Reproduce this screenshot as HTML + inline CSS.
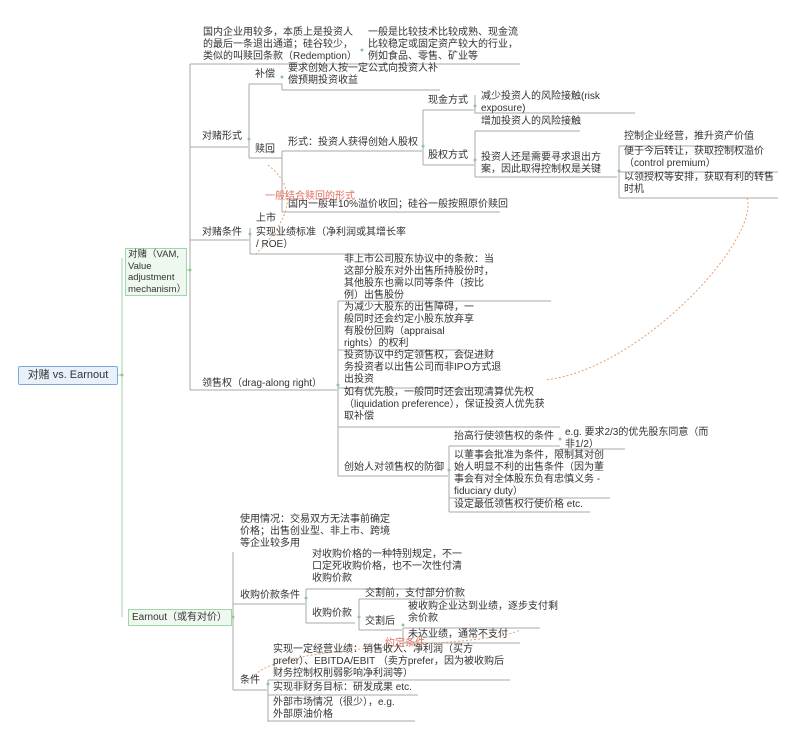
<!DOCTYPE html>
<html><head><meta charset="utf-8"><style>
body{margin:0;width:800px;height:745px;background:#fff;position:relative;overflow:hidden;font-family:"Liberation Sans","Noto Sans CJK SC",sans-serif;font-size:10px;color:#333;}
.t{position:absolute;line-height:12px;white-space:nowrap;margin-top:-2px;}
svg{position:absolute;left:0;top:0;}
.box{position:absolute;line-height:12.5px;}
</style></head><body>
<svg width="800" height="745">
<g stroke="#aaa" stroke-width="1" fill="none">
<path d="M190,64 V390"/>
<path d="M190,64 H520"/>
<path d="M190,147 H248"/>
<path d="M249,84 V158"/>
<path d="M249,84 H282 V90 H440"/>
<path d="M249,158 H282"/>
<path d="M282,151 V212"/>
<path d="M282,151 H422"/>
<path d="M423,110 V165"/>
<path d="M423,110 H474"/>
<path d="M475,95 V113 H635"/>
<path d="M423,165 H474"/>
<path d="M475,131 V177"/>
<path d="M475,131 H580"/>
<path d="M475,177 H617"/>
<path d="M619,146 V198"/>
<path d="M619,146 H752"/>
<path d="M619,172 H778"/>
<path d="M619,198 H778"/>
<path d="M282,212 H500"/>
<path d="M190,240 H249"/>
<path d="M250,228 V254 H405"/>
<path d="M190,390 H337"/>
<path d="M338,301 V476"/>
<path d="M338,301 H551"/>
<path d="M338,350 H467"/>
<path d="M338,388 H485"/>
<path d="M338,427 H560"/>
<path d="M338,476 H448"/>
<path d="M449,446 V512"/>
<path d="M449,446 H560"/>
<path d="M560,449 H625"/>
<path d="M449,498 H610"/>
<path d="M449,512 H590"/>
<path d="M233,552 V690"/>
<path d="M233,604 H305"/>
<path d="M306,589 V623"/>
<path d="M306,589 H460"/>
<path d="M306,623 H355"/>
<path d="M359,599 V630"/>
<path d="M359,599 H465"/>
<path d="M359,630 H402"/>
<path d="M403,628 V645"/>
<path d="M403,628 H540"/>
<path d="M403,643 H520"/>
<path d="M233,690 H267"/>
<path d="M268,680 V722"/>
<path d="M268,680 H510"/>
<path d="M268,695 H418"/>
<path d="M268,721 H415"/>
</g>
<g stroke="#9fd6a8" stroke-width="1" fill="none">
<path d="M122,258 V617"/>
<path d="M118,375 H122"/>
<path d="M185,270 H190"/>
<path d="M229,617 H233"/>
</g>
<g stroke="#e8a070" stroke-width="1" fill="none" stroke-dasharray="2,2">
<path d="M268,165 C300,190 290,220 255,255"/>
<path d="M747,198 C760,240 640,370 545,380"/>
<path d="M252,678 C280,640 480,650 520,630"/>
</g>
<g fill="#8cc890">
<circle cx="190" cy="270" r="1.5"/><circle cx="122" cy="375" r="1.5"/><circle cx="233" cy="617" r="1.5"/>
<circle cx="249" cy="139" r="1.5"/><circle cx="282" cy="77" r="1.5"/><circle cx="272" cy="152" r="1.5"/>
<circle cx="423" cy="146" r="1.5"/><circle cx="475" cy="106" r="1.5"/><circle cx="475" cy="160" r="1.5"/>
<circle cx="619" cy="171" r="1.5"/><circle cx="250" cy="234" r="1.5"/><circle cx="338" cy="385" r="1.5"/>
<circle cx="449" cy="470" r="1.5"/><circle cx="560" cy="439" r="1.5"/><circle cx="362" cy="50" r="1.5"/>
<circle cx="306" cy="598" r="1.5"/><circle cx="359" cy="617" r="1.5"/><circle cx="403" cy="625" r="1.5"/><circle cx="268" cy="684" r="1.5"/>
</g>
</svg>

<div class="box" style="left:18px;top:366px;width:98px;height:17px;border:1px solid #7fa8d8;background:#e8f0fa;border-radius:2px;font-size:11px;line-height:17px;text-align:center;">对赌 vs. Earnout</div>
<div class="box" style="left:125px;top:248px;width:58px;height:46px;border:1px solid #9fd6a8;background:#eef8ef;padding-left:2px;font-size:9.5px;line-height:11.5px;">对赌（VAM,<br>Value<br>adjustment<br>mechanism）</div>
<div class="box" style="left:128px;top:609px;width:99px;height:15px;border:1px solid #9fd6a8;background:#eef8ef;padding-left:3px;line-height:15px;">Earnout（或有对价）</div>

<div class="t" style="left:203px;top:29px">国内企业用较多，本质上是投资人<br>的最后一条退出通道；硅谷较少，<br>类似的叫赎回条款（Redemption）</div>
<div class="t" style="left:368px;top:29px">一般是比较技术比较成熟、现金流<br>比较稳定或固定资产较大的行业，<br>例如食品、零售、矿业等</div>
<div class="t" style="left:202px;top:133px">对赌形式</div>
<div class="t" style="left:255px;top:71px">补偿</div>
<div class="t" style="left:288px;top:65px">要求创始人按一定公式向投资人补<br>偿预期投资收益</div>
<div class="t" style="left:255px;top:146px">赎回</div>
<div class="t" style="left:288px;top:139px">形式：投资人获得创始人股权</div>
<div class="t" style="left:428px;top:97px">现金方式</div>
<div class="t" style="left:481px;top:93px">减少投资人的风险接触(risk<br>exposure)</div>
<div class="t" style="left:481px;top:118px">增加投资人的风险接触</div>
<div class="t" style="left:428px;top:152px">股权方式</div>
<div class="t" style="left:481px;top:154px">投资人还是需要寻求退出方<br>案，因此取得控制权是关键</div>
<div class="t" style="left:624px;top:133px">控制企业经营，推升资产价值</div>
<div class="t" style="left:624px;top:148px">便于今后转让，获取控制权溢价<br>（control premium）</div>
<div class="t" style="left:624px;top:174px">以领授权等安排，获取有利的转售<br>时机</div>
<div class="t" style="left:288px;top:201px">国内一般年10%溢价收回；硅谷一般按照原价赎回</div>
<div class="t" style="left:265px;top:193px;color:#e07060">一般结合赎回的形式</div>
<div class="t" style="left:202px;top:229px">对赌条件</div>
<div class="t" style="left:256px;top:215px">上市</div>
<div class="t" style="left:256px;top:229px">实现业绩标准（净利润或其增长率<br>/ ROE）</div>
<div class="t" style="left:202px;top:380px">领售权（drag-along right）</div>
<div class="t" style="left:344px;top:256px">非上市公司股东协议中的条款：当<br>这部分股东对外出售所持股份时，<br>其他股东也需以同等条件（按比<br>例）出售股份</div>
<div class="t" style="left:344px;top:304px">为减少大股东的出售障碍，一<br>般同时还会约定小股东放弃享<br>有股份回购（appraisal<br>rights）的权利</div>
<div class="t" style="left:344px;top:352px">投资协议中约定领售权，会促进财<br>务投资者以出售公司而非IPO方式退<br>出投资</div>
<div class="t" style="left:344px;top:389px">如有优先股，一般同时还会出现清算优先权<br>（liquidation preference），保证投资人优先获<br>取补偿</div>
<div class="t" style="left:344px;top:464px">创始人对领售权的防御</div>
<div class="t" style="left:454px;top:433px">抬高行使领售权的条件</div>
<div class="t" style="left:565px;top:429px">e.g. 要求2/3的优先股东同意（而<br>非1/2）</div>
<div class="t" style="left:454px;top:452px">以董事会批准为条件，限制其对创<br>始人明显不利的出售条件（因为董<br>事会有对全体股东负有忠慎义务 -<br>fiduciary duty）</div>
<div class="t" style="left:454px;top:501px">设定最低领售权行使价格 etc.</div>

<div class="t" style="left:240px;top:516px">使用情况：交易双方无法事前确定<br>价格；出售创业型、非上市、跨境<br>等企业较多用</div>
<div class="t" style="left:240px;top:592px">收购价款条件</div>
<div class="t" style="left:312px;top:551px">对收购价格的一种特别规定，不一<br>口定死收购价格，也不一次性付清<br>收购价款</div>
<div class="t" style="left:312px;top:610px">收购价款</div>
<div class="t" style="left:365px;top:590px">交割前，支付部分价款</div>
<div class="t" style="left:365px;top:618px">交割后</div>
<div class="t" style="left:408px;top:603px">被收购企业达到业绩，逐步支付剩<br>余价款</div>
<div class="t" style="left:408px;top:631px">未达业绩，通常不支付</div>
<div class="t" style="left:385px;top:640px;color:#e07060">约定条件</div>
<div class="t" style="left:240px;top:677px">条件</div>
<div class="t" style="left:273px;top:646px">实现一定经营业绩：销售收入、净利润（买方<br>prefer）、EBITDA/EBIT （卖方prefer，因为被收购后<br>财务控制权削弱影响净利润等）</div>
<div class="t" style="left:273px;top:684px">实现非财务目标：研发成果 etc.</div>
<div class="t" style="left:273px;top:699px">外部市场情况（很少），e.g.<br>外部原油价格</div>
</body></html>
